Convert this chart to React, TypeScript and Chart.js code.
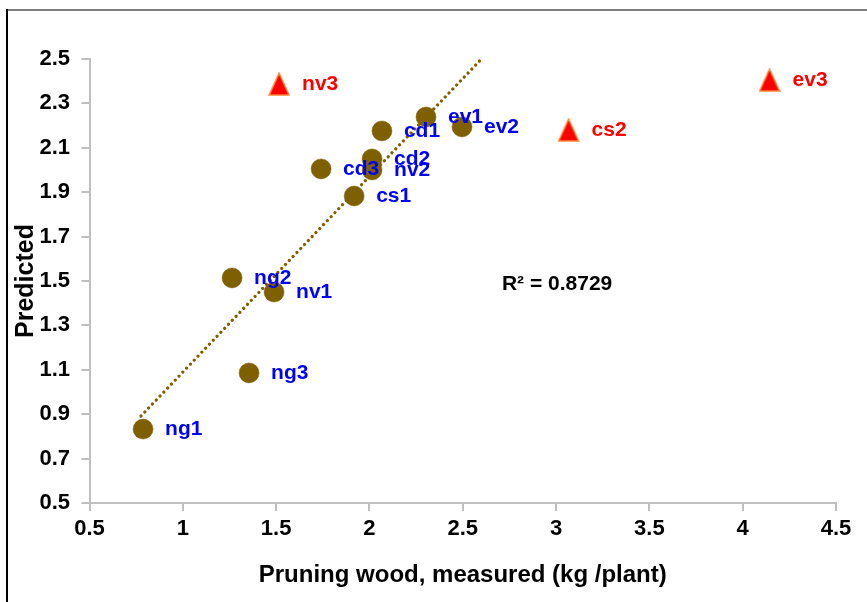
import React, { useEffect, useRef } from 'react';
import { Chart, registerables } from 'chart.js';

Chart.register(...registerables);

// ---- Data ----
const fitLabels = ['ng1', 'ng2', 'ng3', 'nv1', 'cd3', 'cs1', 'cd2', 'nv2', 'cd1', 'ev1', 'ev2'];
const fitX = [0.787, 1.264, 1.355, 1.489, 1.741, 1.918, 2.014, 2.014, 2.067, 2.303, 2.496];
const fitY = [0.833, 1.514, 1.086, 1.45, 2.005, 1.883, 2.05, 2.0, 2.176, 2.239, 2.194];

const outLabels = ['nv3', 'cs2', 'ev3'];
const outX = [1.516, 3.067, 4.144];
const outY = [2.387, 2.18, 2.405];

const trendX = [0.776, 2.6];
const trendY = [0.892, 2.5];

const xTicks = [0.5, 1, 1.5, 2, 2.5, 3, 3.5, 4, 4.5];
const xTickLabels = ['0.5', '1', '1.5', '2', '2.5', '3', '3.5', '4', '4.5'];
const yTicks = [0.5, 0.7, 0.9, 1.1, 1.3, 1.5, 1.7, 1.9, 2.1, 2.3, 2.5];
const yTickLabels = ['0.5', '0.7', '0.9', '1.1', '1.3', '1.5', '1.7', '1.9', '2.1', '2.3', '2.5'];

const r2Text = 'R² = 0.8729';
const xTitle = 'Pruning wood, measured (kg /plant)';
const yTitle = 'Predicted';

// ---- Styles ----
const FONT = 'Arial, "Liberation Sans", sans-serif';
const BROWN = '#7F6000';
const AXIS_GRAY = '#BFBFBF';
const R2_AT = { x: 2.71, y: 1.486 };

function makeTriangle(): HTMLCanvasElement {
  const c = document.createElement('canvas');
  const w = 22, h = 24;
  c.width = w; c.height = h;
  const g = c.getContext('2d')!;
  g.beginPath();
  g.moveTo(w / 2, 1);
  g.lineTo(w - 1, h - 1);
  g.lineTo(1, h - 1);
  g.closePath();
  g.fillStyle = '#FF0000';
  g.fill();
  g.lineWidth = 1.5;
  g.strokeStyle = '#FF8A3A';
  g.stroke();
  return c;
}

const labelPlugin = {
  id: 'pointLabels',
  afterDatasetsDraw(chart: any) {
    const ctx = chart.ctx;
    const xs = chart.scales.x;
    const ys = chart.scales.y;
    ctx.save();
    ctx.font = `bold 21px ${FONT}`;
    ctx.textBaseline = 'middle';
    ctx.textAlign = 'left';
    ctx.fillStyle = '#0000FF';
    fitLabels.forEach((l, i) => {
      ctx.fillText(l, xs.getPixelForValue(fitX[i]) + 22, ys.getPixelForValue(fitY[i]));
    });
    ctx.fillStyle = '#FF0000';
    outLabels.forEach((l, i) => {
      ctx.fillText(l, xs.getPixelForValue(outX[i]) + 23, ys.getPixelForValue(outY[i]));
    });
    ctx.fillStyle = '#000000';
    ctx.font = `bold 21px ${FONT}`;
    ctx.fillText(r2Text, xs.getPixelForValue(R2_AT.x), ys.getPixelForValue(R2_AT.y));
    ctx.restore();
  },
};

export default function App() {
  const ref = useRef<HTMLCanvasElement | null>(null);

  useEffect(() => {
    if (!ref.current) return;
    const tri = makeTriangle();
    const chart = new Chart(ref.current, {
      type: 'scatter',
      data: {
        datasets: [
          {
            type: 'line',
            data: trendX.map((x, i) => ({ x, y: trendY[i] })),
            borderColor: BROWN,
            borderWidth: 3.2,
            borderDash: [0.01, 5.5],
            borderCapStyle: 'round',
            pointRadius: 0,
            fill: false,
            tension: 0,
          } as any,
          {
            data: fitX.map((x, i) => ({ x, y: fitY[i] })),
            backgroundColor: BROWN,
            borderColor: BROWN,
            borderWidth: 0.5,
            pointRadius: 10,
            pointHoverRadius: 10,
          },
          {
            data: outX.map((x, i) => ({ x, y: outY[i] })),
            pointStyle: tri as any,
            pointRadius: 11,
          },
        ],
      },
      options: {
        responsive: false,
        animation: false,
        events: [],
        layout: { padding: { left: 0, top: 59, right: 31, bottom: 0 } },
        plugins: {
          legend: { display: false },
          tooltip: { enabled: false },
        },
        scales: {
          x: {
            type: 'linear',
            min: 0.5,
            max: 4.5,
            afterBuildTicks: (s: any) => {
              s.ticks = xTicks.map((v) => ({ value: v }));
            },
            afterFit: (s: any) => {
              s.height = 99;
            },
            ticks: {
              callback: (_v: any, i: number) => xTickLabels[i],
              font: { family: FONT, size: 22, weight: 'bold' },
              color: '#000000',
              padding: 5,
              maxRotation: 0,
            },
            grid: {
              display: true,
              drawOnChartArea: false,
              drawTicks: true,
              tickLength: 8,
              color: AXIS_GRAY,
              lineWidth: 2,
            },
            border: { display: true, color: AXIS_GRAY, width: 2 },
            title: {
              display: true,
              text: xTitle,
              font: { family: FONT, size: 24, weight: 'bold' },
              color: '#000000',
              padding: { top: 0, bottom: 12 },
            },
          },
          y: {
            type: 'linear',
            min: 0.5,
            max: 2.5,
            afterBuildTicks: (s: any) => {
              s.ticks = yTicks.map((v) => ({ value: v }));
            },
            afterFit: (s: any) => {
              s.width = 89.5;
            },
            ticks: {
              callback: (_v: any, i: number) => yTickLabels[i],
              font: { family: FONT, size: 22, weight: 'bold' },
              color: '#000000',
              padding: 11.5,
            },
            grid: {
              display: true,
              drawOnChartArea: false,
              drawTicks: true,
              tickLength: 8,
              color: AXIS_GRAY,
              lineWidth: 2,
            },
            border: { display: true, color: AXIS_GRAY, width: 2 },
            title: {
              display: true,
              text: yTitle,
              font: { family: FONT, size: 25, weight: 'bold' },
              color: '#000000',
              padding: { top: 11, bottom: 0 },
            },
          },
        },
      } as any,
      plugins: [labelPlugin],
    });
    return () => chart.destroy();
  }, []);

  return (
    <div
      style={{
        position: 'fixed',
        left: 0,
        top: 0,
        width: 867,
        height: 602,
        background: '#ffffff',
        overflow: 'hidden',
      }}
    >
      <canvas
        ref={ref}
        width={867}
        height={602}
        style={{ position: 'absolute', left: 0, top: 0, width: 867, height: 602 }}
      />
      <div style={{ position: 'absolute', left: 6, top: 9, width: 861, height: 2, background: '#7F7F7F' }} />
      <div style={{ position: 'absolute', left: 6, top: 9, width: 1.5, height: 593, background: '#000000' }} />
    </div>
  );
}
